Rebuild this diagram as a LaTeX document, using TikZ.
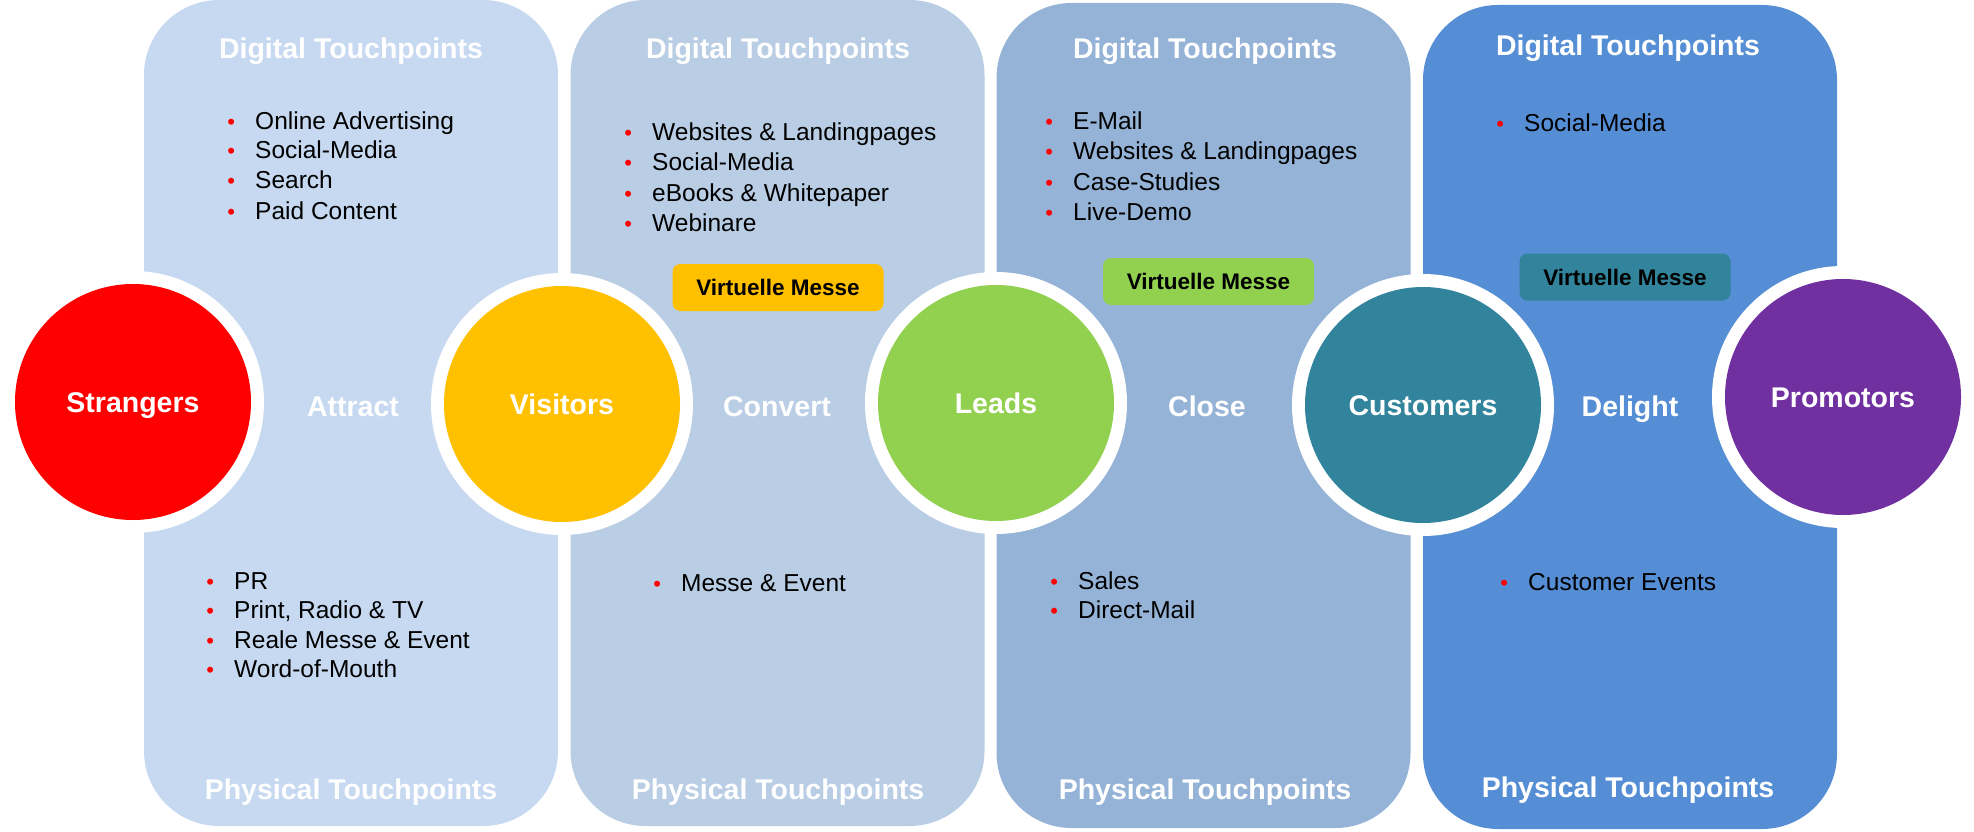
\documentclass[tikz,border=0pt]{standalone}
\usepackage{fontspec}
\setmainfont{Liberation Sans}
\definecolor{pA}{HTML}{C6D9F1}
\definecolor{pB}{HTML}{B9CDE5}
\definecolor{pC}{HTML}{95B3D7}
\definecolor{pD}{HTML}{558ED5}
\definecolor{cRed}{HTML}{FF0000}
\definecolor{cYel}{HTML}{FFC000}
\definecolor{cGrn}{HTML}{92D050}
\definecolor{cTeal}{HTML}{31849B}
\definecolor{cPur}{HTML}{7030A0}
\newcommand{\bitem}[1]{\makebox[24pt][l]{\makebox[0pt][c]{\color{red}\fontsize{22}{22}\selectfont\textbullet}}#1}
\begin{document}
\begin{tikzpicture}[x=1pt,y=-1pt,
  panel/.style={rectangle, rounded corners=75pt, minimum width=414pt, inner sep=0pt, draw=none},
  ring/.style={circle, fill=white, minimum size=262pt, inner sep=0pt},
  stage/.style={circle, minimum size=236pt, inner sep=0pt, text=white,
    font=\fontsize{28.5}{30}\selectfont\bfseries, text height=20.4pt, text depth=0pt},
  hdr/.style={text=white, inner sep=0pt, font=\fontsize{28.5}{30}\selectfont\bfseries,
    text height=20.4pt, text depth=0pt},
  vm/.style={rectangle, rounded corners=8pt, minimum width=211pt, minimum height=47pt,
    inner sep=0pt, font=\fontsize{22.5}{24}\selectfont\bfseries, text=black,
    text height=16pt, text depth=0pt},
  itm/.style={anchor=base west, inner sep=0pt, text=black, font=\fontsize{24.5}{29}\selectfont}
]
\useasboundingbox (0,0) rectangle (1974,832);
% panels
\node[panel, fill=pA, minimum height=826pt] (pan1) at (351,413) {};
\node[panel, fill=pB, minimum height=826pt] (pan2) at (777.5,413) {};
\node[panel, fill=pC, minimum height=825pt] (pan3) at (1203.5,415.5) {};
\node[panel, fill=pD, minimum height=824pt] (pan4) at (1630,417) {};
% headers
\node[hdr] (d1) at (351,48) {Digital Touchpoints};
\node[hdr] (d2) at (778,48) {Digital Touchpoints};
\node[hdr] (d3) at (1205,48) {Digital Touchpoints};
\node[hdr] (d4) at (1628,45) {Digital Touchpoints};
\node[hdr] (f1) at (351,789) {Physical Touchpoints};
\node[hdr] (f2) at (778,789) {Physical Touchpoints};
\node[hdr] (f3) at (1205,789) {Physical Touchpoints};
\node[hdr] (f4) at (1628,787) {Physical Touchpoints};
% stage labels
\node[hdr] (attract) at (353,406) {Attract};
\node[hdr] (convert) at (777,406) {Convert};
\node[hdr] (close) at (1207,406) {Close};
\node[hdr] (delight) at (1630,406) {Delight};
% digital lists
\node[itm] (a1) at (231,130) {\bitem{Online Advertising}};
\node[itm] (a2) at (231,159) {\bitem{Social-Media}};
\node[itm] (a3) at (231,189) {\bitem{Search}};
\node[itm] (a4) at (231,219) {\bitem{Paid Content}};
\node[itm] (b1) at (628,141) {\bitem{Websites \& Landingpages}};
\node[itm] (b2) at (628,171) {\bitem{Social-Media}};
\node[itm] (b3) at (628,201) {\bitem{eBooks \& Whitepaper}};
\node[itm] (b4) at (628,231) {\bitem{Webinare}};
\node[itm] (c1) at (1049,130) {\bitem{E-Mail}};
\node[itm] (c2) at (1049,160) {\bitem{Websites \& Landingpages}};
\node[itm] (c3) at (1049,190) {\bitem{Case-Studies}};
\node[itm] (c4) at (1049,220) {\bitem{Live-Demo}};
\node[itm] (e1) at (1500,132) {\bitem{Social-Media}};
% physical lists
\node[itm] (g1) at (210,589) {\bitem{PR}};
\node[itm] (g2) at (210,618) {\bitem{Print, Radio \& TV}};
\node[itm] (g3) at (210,648) {\bitem{Reale Messe \& Event}};
\node[itm] (g4) at (210,677.5) {\bitem{Word-of-Mouth}};
\node[itm] (h1) at (657,591) {\bitem{Messe \& Event}};
\node[itm] (k1) at (1054,589) {\bitem{Sales}};
\node[itm] (k2) at (1054,618) {\bitem{Direct-Mail}};
\node[itm] (m1) at (1504,590) {\bitem{Customer Events}};
% virtuelle messe boxes
\node[vm, fill=cYel] (vm1) at (778,287.5) {Virtuelle Messe};
\node[vm, fill=cGrn] (vm2) at (1208.5,281.5) {Virtuelle Messe};
\node[vm, fill=cTeal] (vm3) at (1625,277) {Virtuelle Messe};
% circles
\node[ring] (r1) at (133,402) {};
\node[ring] (r2) at (562,404) {};
\node[ring] (r3) at (996,403) {};
\node[ring] (r4) at (1423,405) {};
\node[ring] (r5) at (1843,397) {};
\node[stage, fill=cRed] (strangers) at (133,402) {Strangers};
\node[stage, fill=cYel] (visitors) at (562,404) {Visitors};
\node[stage, fill=cGrn] (leads) at (996,403) {Leads};
\node[stage, fill=cTeal] (customers) at (1423,405) {Customers};
\node[stage, fill=cPur] (promotors) at (1843,397) {Promotors};
\end{tikzpicture}
\end{document}
